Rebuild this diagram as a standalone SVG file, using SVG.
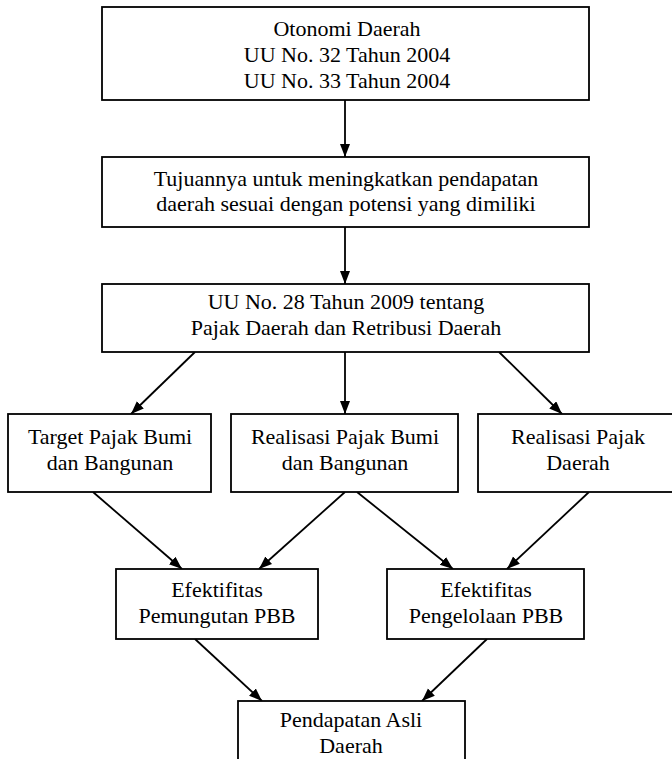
<svg xmlns="http://www.w3.org/2000/svg" width="672" height="759" viewBox="0 0 672 759">
<style>
.box{fill:#fff;stroke:#000;stroke-width:1.8}
.c{stroke:#000;stroke-width:1.8;fill:none;marker-end:url(#ah)}
</style>
<defs>
<marker id="ah" markerUnits="userSpaceOnUse" markerWidth="14" markerHeight="12" refX="13" refY="5" orient="auto">
<path d="M0,0 L13,5 L0,10 Z" fill="#000"/>
</marker>
</defs>
<rect width="672" height="759" fill="#fff"/>
<g id="connectors">
<line class="c" x1="345" y1="100" x2="345" y2="157"/>
<line class="c" x1="345" y1="227" x2="345" y2="284"/>
<line class="c" x1="195" y1="352" x2="131" y2="414"/>
<line class="c" x1="345" y1="352" x2="345" y2="414"/>
<line class="c" x1="499" y1="352" x2="562" y2="414"/>
<line class="c" x1="93" y1="492" x2="182" y2="569"/>
<line class="c" x1="345" y1="492" x2="259" y2="569"/>
<line class="c" x1="357" y1="492" x2="453" y2="569"/>
<line class="c" x1="589" y1="492" x2="507" y2="569"/>
<line class="c" x1="195" y1="639" x2="262" y2="701"/>
<line class="c" x1="487" y1="639" x2="422" y2="701"/>
</g>
<g id="n1">
<rect class="box" x="102" y="7" width="487" height="93"/>
<text x="347" y="36" font-family="Liberation Serif" font-size="22" text-anchor="middle">Otonomi Daerah</text>
<text x="347" y="62" font-family="Liberation Serif" font-size="22" text-anchor="middle">UU No. 32 Tahun 2004</text>
<text x="347" y="88" font-family="Liberation Serif" font-size="22" text-anchor="middle">UU No. 33 Tahun 2004</text>
</g>
<g id="n2">
<rect class="box" x="102" y="157" width="487" height="70"/>
<text x="346" y="186" font-family="Liberation Serif" font-size="22" text-anchor="middle">Tujuannya untuk meningkatkan pendapatan</text>
<text x="346" y="211" font-family="Liberation Serif" font-size="22" text-anchor="middle">daerah sesuai dengan potensi yang dimiliki</text>
</g>
<g id="n3">
<rect class="box" x="102" y="284" width="487" height="68"/>
<text x="346" y="309" font-family="Liberation Serif" font-size="22" text-anchor="middle">UU No. 28 Tahun 2009 tentang</text>
<text x="346" y="335" font-family="Liberation Serif" font-size="22" text-anchor="middle">Pajak Daerah dan Retribusi Daerah</text>
</g>
<g id="n4">
<rect class="box" x="8" y="414" width="203" height="78"/>
<text x="110" y="444" font-family="Liberation Serif" font-size="22" text-anchor="middle">Target Pajak Bumi</text>
<text x="110" y="470" font-family="Liberation Serif" font-size="22" text-anchor="middle">dan Bangunan</text>
</g>
<g id="n5">
<rect class="box" x="231" y="414" width="227" height="78"/>
<text x="345" y="444" font-family="Liberation Serif" font-size="22" text-anchor="middle">Realisasi Pajak Bumi</text>
<text x="345" y="470" font-family="Liberation Serif" font-size="22" text-anchor="middle">dan Bangunan</text>
</g>
<g id="n6">
<rect class="box" x="478" y="414" width="200" height="78"/>
<text x="578" y="444" font-family="Liberation Serif" font-size="22" text-anchor="middle">Realisasi Pajak</text>
<text x="578" y="470" font-family="Liberation Serif" font-size="22" text-anchor="middle">Daerah</text>
</g>
<g id="n7">
<rect class="box" x="116" y="569" width="202" height="70"/>
<text x="217" y="597" font-family="Liberation Serif" font-size="22" text-anchor="middle">Efektifitas</text>
<text x="217" y="623" font-family="Liberation Serif" font-size="22" text-anchor="middle">Pemungutan PBB</text>
</g>
<g id="n8">
<rect class="box" x="387" y="569" width="197" height="70"/>
<text x="486" y="597" font-family="Liberation Serif" font-size="22" text-anchor="middle">Efektifitas</text>
<text x="486" y="623" font-family="Liberation Serif" font-size="22" text-anchor="middle">Pengelolaan PBB</text>
</g>
<g id="n9">
<rect class="box" x="238" y="701" width="227" height="70"/>
<text x="351" y="727" font-family="Liberation Serif" font-size="22" text-anchor="middle">Pendapatan Asli</text>
<text x="351" y="753" font-family="Liberation Serif" font-size="22" text-anchor="middle">Daerah</text>
</g>
</svg>
